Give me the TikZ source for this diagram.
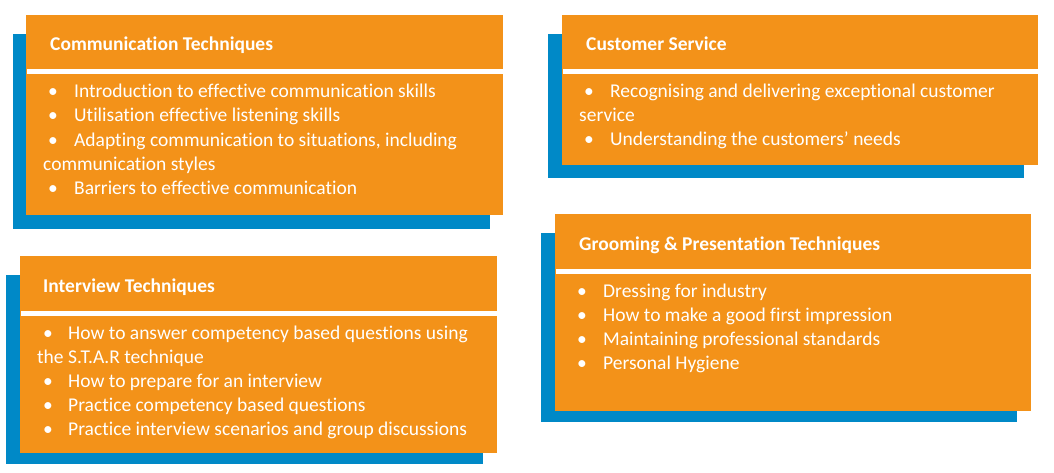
\documentclass[tikz,border=0pt]{standalone}
\usepackage{fontspec}
\setmainfont{Carlito}[Ligatures=NoCommon]
\usetikzlibrary{positioning}
\definecolor{cardorange}{RGB}{243,146,25}
\definecolor{cardblue}{RGB}{0,137,199}
\tikzset{
  backbox/.style={fill=cardblue},
  frontbox/.style={fill=cardorange},
  band/.style={draw=white, line width=5pt},
  heading/.style={anchor=base west, inner sep=0pt, text=white, font=\fontsize{19.5}{23}\selectfont\bfseries},
  entry/.style={anchor=base west, inner sep=0pt, text=white, font=\fontsize{19.5}{23}\selectfont},
  dot/.style={anchor=base, inner sep=0pt, text=white, font=\fontsize{19.5}{23}\selectfont}
}

\begin{document}
\begin{tikzpicture}[x=1pt, y=-1pt]
  \useasboundingbox (0,0) rectangle (1054,473);

  % Communication Techniques
  \fill[backbox] (13,34) rectangle (490,229);
  \fill[frontbox] (26,15) rectangle (503,215);
  \draw[band] (27,71.5) -- (503,71.5);
  \node[heading] (comm) at (50,51) {Communication Techniques};
  \foreach \y/\t [count=\i] in {98/Introduction to effective communication skills,
      122/Utilisation effective listening skills,
      146.5/{Adapting communication to situations, including},
      194.5/Barriers to effective communication} {
    \node[dot] (comm dot\i) at (53,\y) {\textbullet};
    \node[entry] (comm item\i) at (74,\y) {\t};
  }
  \node[entry] (comm wrap) at (43,170.5) {communication styles};

  % Customer Service
  \fill[backbox] (548,34) rectangle (1024,178);
  \fill[frontbox] (562,15) rectangle (1038,165.5);
  \draw[band] (563,71.5) -- (1038,71.5);
  \node[heading] (cust) at (586,51) {Customer Service};
  \foreach \y/\t [count=\i] in {98/Recognising and delivering exceptional customer,
      146/Understanding the customers’ needs} {
    \node[dot] (cust dot\i) at (589,\y) {\textbullet};
    \node[entry] (cust item\i) at (610,\y) {\t};
  }
  \node[entry] (cust wrap) at (579,122) {service};

  % Interview Techniques
  \fill[backbox] (6,275) rectangle (483,464);
  \fill[frontbox] (20,256) rectangle (497,453);
  \draw[band] (21,313) -- (497,313);
  \node[heading] (intv) at (43,292) {Interview Techniques};
  \foreach \y/\t [count=\i] in {339/How to answer competency based questions using,
      387/How to prepare for an interview,
      411/Practice competency based questions,
      435/Practice interview scenarios and group discussions} {
    \node[dot] (intv dot\i) at (48,\y) {\textbullet};
    \node[entry] (intv item\i) at (68,\y) {\t};
  }
  \node[entry] (intv wrap) at (37,363) {the S.T.A.R technique};

  % Grooming & Presentation Techniques
  \fill[backbox] (541,233) rectangle (1017,422);
  \fill[frontbox] (555,214) rectangle (1031,411);
  \draw[band] (556,271) -- (1031,271);
  \node[heading] (groom) at (579,250) {Grooming \& Presentation Techniques};
  \foreach \y/\t [count=\i] in {297/Dressing for industry,
      321/How to make a good first impression,
      345/Maintaining professional standards,
      369/Personal Hygiene} {
    \node[dot] (groom dot\i) at (582,\y) {\textbullet};
    \node[entry] (groom item\i) at (603,\y) {\t};
  }
\end{tikzpicture}
\end{document}
